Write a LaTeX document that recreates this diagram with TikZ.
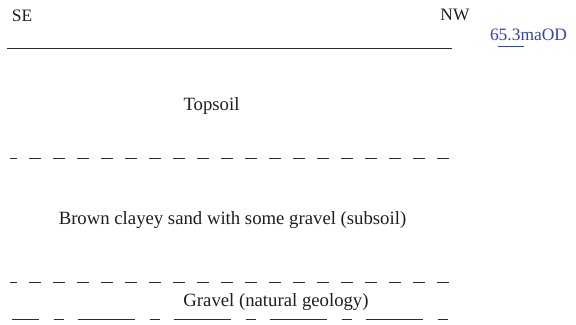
\documentclass[tikz,border=0pt]{standalone}
\usepackage{fontspec}
\setmainfont{Liberation Serif}
\definecolor{ink}{RGB}{30,30,30}
\definecolor{rule}{RGB}{45,45,45}
\definecolor{aodblue}{RGB}{50,70,170}
\begin{document}
\begin{tikzpicture}[x=1bp,y=-1bp,
  lbl/.style={inner sep=0pt,anchor=base,font=\fontsize{17.5}{20}\selectfont,text=ink},
  bodylbl/.style={lbl,font=\fontsize{18.8}{22}\selectfont},
  boundary/.style={draw=rule,line width=1bp},
  dashbound/.style={draw=rule,line width=1bp,dash pattern=on 12bp off 12bp,dash phase=5bp},
  gravelbound/.style={draw=rule,line width=1bp,dash pattern=on 57bp off 15bp on 10bp off 14bp,dash phase=30bp}]
\useasboundingbox (0,0) rectangle (576,324);
\node[lbl] (se) at (22,21) {SE};
\node[lbl] (nw) at (455,20) {NW};
\node[lbl,text=aodblue] (aod) at (528.5,40) {65.3maOD};
\coordinate (ul1) at (498,46.5);
\coordinate (ul2) at (524,46.5);
\draw[aodblue,line width=1bp] (ul1) -- (ul2);
\coordinate (g1) at (7,48);
\coordinate (g2) at (452,48);
\draw[boundary] (g1) -- (g2);
\node[bodylbl] (top) at (211.5,110) {Topsoil};
\coordinate (d1a) at (10,158);
\coordinate (d1b) at (449,158);
\draw[dashbound] (d1a) -- (d1b);
\node[bodylbl] (sub) at (232.5,224) {Brown clayey sand with some gravel (subsoil)};
\coordinate (d2a) at (10,282);
\coordinate (d2b) at (449,282);
\draw[dashbound] (d2a) -- (d2b);
\node[bodylbl] (grav) at (276,306) {Gravel (natural geology)};
\coordinate (d3a) at (12,319);
\coordinate (d3b) at (452,319);
\draw[gravelbound] (d3a) -- (d3b);
\end{tikzpicture}
\end{document}
